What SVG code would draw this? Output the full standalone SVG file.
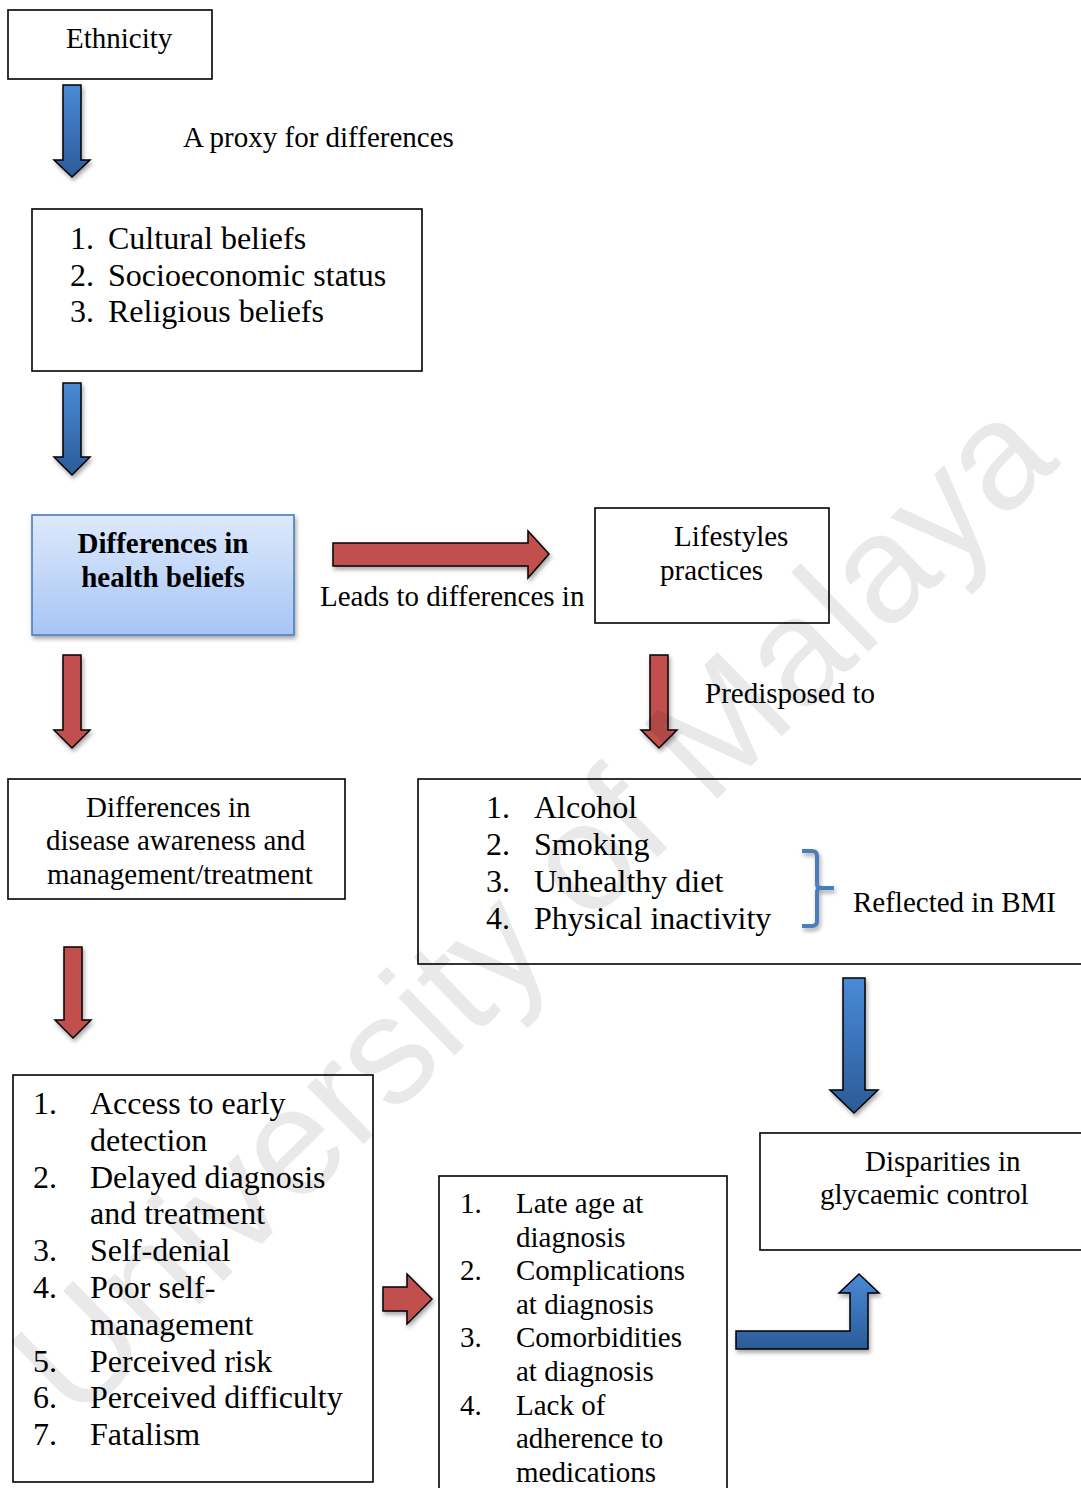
<svg xmlns="http://www.w3.org/2000/svg" width="1081" height="1488" viewBox="0 0 1081 1488">
<defs>
<style>
.box{fill:#fff;stroke:#000;stroke-width:1.6}
.t{font-family:"Liberation Serif","Times New Roman",serif;font-size:29px;fill:#000}
.l{font-family:"Liberation Serif","Times New Roman",serif;font-size:32px;fill:#000}
.b{font-family:"Liberation Serif","Times New Roman",serif;font-size:29px;font-weight:bold;fill:#000}
.red{fill:#c0504d;stroke:#000;stroke-width:1.5;stroke-linejoin:miter}
.blue{fill:url(#bg);stroke:#000;stroke-width:1.5;stroke-linejoin:miter}
.wm{font-family:"Liberation Sans",Arial,sans-serif;font-size:153px;fill:#000;fill-opacity:0.085}
</style>
<linearGradient id="bg" x1="0" y1="0" x2="0" y2="1">
<stop offset="0" stop-color="#4a8ad6"/>
<stop offset="1" stop-color="#2b5b98"/>
</linearGradient>
<linearGradient id="hb" x1="0" y1="0" x2="0" y2="1">
<stop offset="0" stop-color="#dde9fb"/>
<stop offset="1" stop-color="#a7c5f6"/>
</linearGradient>
<filter id="sh" x="-20%" y="-20%" width="150%" height="150%">
<feDropShadow dx="1.5" dy="3" stdDeviation="2" flood-color="#000" flood-opacity="0.35"/>
</filter>
</defs>
<rect width="1081" height="1488" fill="#fff"/>

<g id="ethnicity">
<rect class="box" x="8" y="10" width="204" height="69"/>
<text class="t" x="66" y="48">Ethnicity</text>
</g>

<g id="label-proxy">
<text class="t" x="183" y="147">A proxy for differences</text>
</g>

<g id="beliefs-list">
<rect class="box" x="32" y="209" width="390" height="162"/>
<text class="l" x="70" y="249">1.</text><text class="l" x="108" y="249">Cultural beliefs</text>
<text class="l" x="70" y="286">2.</text><text class="l" x="108" y="286">Socioeconomic status</text>
<text class="l" x="70" y="322">3.</text><text class="l" x="108" y="322">Religious beliefs</text>
</g>

<g id="health-beliefs">
<rect x="32" y="515" width="262" height="120" fill="url(#hb)" stroke="#4a7ebb" stroke-width="1.6" filter="url(#sh)"/>
<text class="b" x="163" y="553" text-anchor="middle">Differences in</text>
<text class="b" x="163" y="587" text-anchor="middle">health beliefs</text>
</g>

<g id="label-leads">
<text class="t" x="320" y="606">Leads to differences in</text>
</g>

<g id="lifestyles">
<rect class="box" x="595" y="508" width="234" height="115"/>
<text class="t" x="674" y="546">Lifestyles</text>
<text class="t" x="660" y="580">practices</text>
</g>

<g id="label-predisposed">
<text class="t" x="705" y="703">Predisposed to</text>
</g>

<g id="disease-awareness">
<rect class="box" x="8" y="779" width="337" height="120"/>
<text class="t" x="86" y="817">Differences in</text>
<text class="t" x="46" y="850">disease awareness and</text>
<text class="t" x="47" y="884">management/treatment</text>
</g>

<g id="risk-factors">
<rect class="box" x="418" y="779" width="680" height="185"/>
<text class="l" x="486" y="818">1.</text><text class="l" x="534" y="818">Alcohol</text>
<text class="l" x="486" y="855">2.</text><text class="l" x="534" y="855">Smoking</text>
<text class="l" x="486" y="892">3.</text><text class="l" x="534" y="892">Unhealthy diet</text>
<text class="l" x="486" y="929">4.</text><text class="l" x="534" y="929">Physical inactivity</text>
<path d="M802,851 H812 Q817,851 817,856 V884 Q817,888 821,888 H834 M821,888 Q817,888 817,892 V921 Q817,926 812,926 H802" fill="none" stroke="#4a7ebb" stroke-width="4" filter="url(#sh)"/>
<text class="t" x="853" y="912">Reflected in BMI</text>
</g>

<g id="consequences">
<rect class="box" x="13" y="1075" width="360" height="407"/>
<text class="l" x="33" y="1114">1.</text><text class="l" x="90" y="1114">Access to early</text>
<text class="l" x="90" y="1151">detection</text>
<text class="l" x="33" y="1188">2.</text><text class="l" x="90" y="1188">Delayed diagnosis</text>
<text class="l" x="90" y="1224">and treatment</text>
<text class="l" x="33" y="1261">3.</text><text class="l" x="90" y="1261">Self-denial</text>
<text class="l" x="33" y="1298">4.</text><text class="l" x="90" y="1298">Poor self-</text>
<text class="l" x="90" y="1335">management</text>
<text class="l" x="33" y="1372">5.</text><text class="l" x="90" y="1372">Perceived risk</text>
<text class="l" x="33" y="1408">6.</text><text class="l" x="90" y="1408">Perceived difficulty</text>
<text class="l" x="33" y="1445">7.</text><text class="l" x="90" y="1445">Fatalism</text>
</g>

<g id="diagnosis-outcomes">
<rect class="box" x="439" y="1176" width="288" height="330"/>
<text class="t" x="460" y="1213">1.</text><text class="t" x="516" y="1213">Late age at</text>
<text class="t" x="516" y="1247">diagnosis</text>
<text class="t" x="460" y="1280">2.</text><text class="t" x="516" y="1280">Complications</text>
<text class="t" x="516" y="1314">at diagnosis</text>
<text class="t" x="460" y="1347">3.</text><text class="t" x="516" y="1347">Comorbidities</text>
<text class="t" x="516" y="1381">at diagnosis</text>
<text class="t" x="460" y="1415">4.</text><text class="t" x="516" y="1415">Lack of</text>
<text class="t" x="516" y="1448">adherence to</text>
<text class="t" x="516" y="1482">medications</text>
</g>

<g id="glycaemic-control">
<rect class="box" x="760" y="1133" width="340" height="117"/>
<text class="t" x="865" y="1171">Disparities in</text>
<text class="t" x="820" y="1204">glycaemic control</text>
</g>

<g id="connectors" filter="url(#sh)">
<polygon class="blue" points="63,85 81,85 81,160 90,160 72,177 54,160 63,160"/>
<polygon class="blue" points="63,383 81,383 81,457 90,457 72,475 54,457 63,457"/>
<polygon class="red" points="333,543 528,543 528,531 549,554 528,578 528,566 333,566"/>
<polygon class="red" points="63,655 81,655 81,730 90,730 72,748 54,730 63,730"/>
<polygon class="red" points="650,655 668,655 668,730 677,730 659,748 641,730 650,730"/>
<polygon class="red" points="64,947 82,947 82,1020 91,1020 73,1038 55,1020 64,1020"/>
<polygon class="blue" points="843,978 865,978 865,1090 878,1090 854,1113 830,1090 843,1090"/>
<polygon class="red" points="383,1287 407,1287 407,1274 432,1299 407,1324 407,1311 383,1311"/>
<polygon class="blue" points="736,1331 850,1331 850,1293 839,1293 859,1274 879,1293 868,1293 868,1349 736,1349"/>
</g>

<g id="watermark">
<text class="wm" x="0" y="0" transform="translate(76,1425) rotate(-44.3)">University of Malaya</text>
</g>
</svg>
